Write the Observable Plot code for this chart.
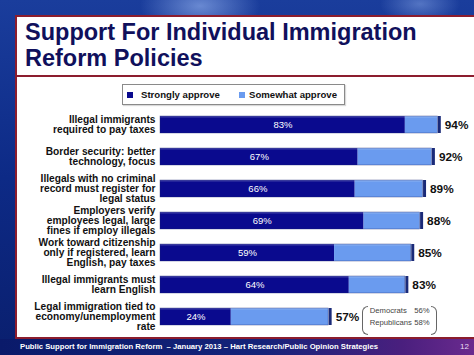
<!DOCTYPE html>
<html>
<head>
<meta charset="utf-8">
<script src="https://cdn.jsdelivr.net/npm/d3@7"></script>
<script src="https://cdn.jsdelivr.net/npm/@observablehq/plot@0.6"></script>
<style>
  html, body { margin: 0; padding: 0; }
  body {
    width: 474px; height: 355px; overflow: hidden; position: relative;
    font-family: "Liberation Sans", Arial, sans-serif;
    background:
      radial-gradient(ellipse 60px 30px at 200px 6px, rgba(170,200,255,0.55), rgba(170,200,255,0) 100%),
      radial-gradient(ellipse 40px 20px at 420px 4px, rgba(170,200,255,0.4), rgba(170,200,255,0) 100%),
      linear-gradient(180deg, #1a3d9c 0%, #0d2a86 50%, #0a1f6e 100%);
  }
  #footer {
    position: absolute; left: 0; top: 339px; width: 474px; height: 16px;
    background: linear-gradient(90deg, #0a1a6a 0%, #14237a 55%, #4a1f7e 85%, #6a2a8e 100%);
  }
  #footer .src { position: absolute; left: 20px; top: 3px; color: #fff; font-weight: bold; font-size: 7.7px; white-space: pre; }
  #footer .pg { position: absolute; left: 460px; top: 3px; color: #e8dcf5; font-size: 8px; }
  #panel {
    position: absolute; left: 15px; top: 15px; width: 470px; height: 320px;
    background: #fff; border: 2px solid #8c1d2e;
  }
  #titlebar {
    position: absolute; left: 15px; top: 15px; width: 470px; height: 60px;
    border-bottom: 2px solid #8c1d2e;
  }
  #title {
    position: absolute; left: 25px; top: 20px; margin: 0;
    font-size: 23.5px; line-height: 25.5px; font-weight: bold; color: #10105c;
  }
  #legend {
    position: absolute; left: 122px; top: 84px; width: 221px; height: 19px;
    border: 1px solid #8a8a8a; background: #fff; box-shadow: 1px 1px 1px rgba(0,0,0,0.15);
    font-size: 9.6px; font-weight: bold; color: #111;
  }
  #legend .sw { position: absolute; top: 7px; width: 6px; height: 6px; }
  #legend .lb { position: absolute; top: 4px; }
  #chart { position: absolute; left: 0; top: 78px; }
  .br { position: absolute; top: 306px; width: 5px; height: 27px; border: 1px solid #666; }
  .br.l { left: 362px; border-right: none; border-radius: 6px 0 0 6px; }
  .br.r { left: 431px; border-left: none; border-radius: 0 6px 6px 0; }
</style>
</head>
<body>
<div id="panel"></div>
<div id="titlebar"></div>
<h1 id="title">Support For Individual Immigration<br>Reform Policies</h1>
<div id="legend"></div>
<div id="chart"></div>
<div class="br l"></div>
<div class="br r"></div>
<div id="footer"><span class="src"></span><span class="pg"></span></div>
<script>
// ---- data ----
const categories = [
  "Illegal immigrants\nrequired to pay taxes",
  "Border security: better\ntechnology, focus",
  "Illegals with no criminal\nrecord must register for\nlegal status",
  "Employers verify\nemployees legal, large\nfines if employ illegals",
  "Work toward citizenship\nonly if registered, learn\nEnglish, pay taxes",
  "Illegal immigrants must\nlearn English",
  "Legal immigration tied to\neconomy/unemployment\nrate"
];
const strongly = [83, 67, 66, 69, 59, 64, 24];
const total    = [94, 92, 89, 88, 85, 83, 57];
const seriesNames = ["Strongly approve", "Somewhat approve"];
const noteNames = ["Democrats", "Republicans"];
const noteValues = [56, 58];
const footerText = "Public Support for Immigration Reform  \u2013 January 2013 \u2013 Hart Research/Public Opinion Strategies";
const pageNumber = "12";

const colors = ["#0a0a8e", "#6a9bef"];

const rows = categories.map((c, i) => ({cat: c, strong: strongly[i], total: total[i]}));
const last = rows[rows.length - 1];
const notes = noteNames.map((n, i) => ({cat: last.cat, total: last.total, name: n, value: noteValues[i]}));

// legend
const legend = document.getElementById("legend");
const legendPos = [[4, 18], [116, 126]];
seriesNames.forEach((s, i) => {
  const sw = document.createElement("div");
  sw.className = "sw"; sw.style.left = legendPos[i][0] + "px"; sw.style.background = colors[i];
  const lb = document.createElement("div");
  lb.className = "lb"; lb.style.left = legendPos[i][1] + "px"; lb.textContent = s;
  legend.append(sw, lb);
});
document.querySelector("#footer .src").textContent = footerText;
document.querySelector("#footer .pg").textContent = pageNumber;

const noteMarks = notes.flatMap((d, i) => {
  const dy = i === 0 ? -6 : 6;
  return [
    Plot.text([d], {y: "cat", x: "total", text: "name", textAnchor: "start", dx: 41, dy, fontSize: 7.7, fill: "#444"}),
    Plot.text([d], {y: "cat", x: "total", text: v => v.value + "%", textAnchor: "end", dx: 101, dy, fontSize: 7.7, fill: "#444"})
  ];
});

const font = "Liberation Sans, Arial, sans-serif";
const chart = Plot.plot({
  width: 474,
  height: 261,
  margin: 0,
  style: {background: "transparent", fontFamily: font},
  x: {domain: [0, 100], range: [160, 455], axis: null},
  y: {domain: categories, range: [19.75, 265], padding: 0.48, axis: null},
  marks: [
    Plot.barX(rows, {y: "cat", x1: 0, x2: "strong", fill: colors[0]}),
    Plot.barX(rows, {y: "cat", x1: "strong", x2: "total", fill: colors[1]}),
    // top bevel
    Plot.barX(rows, {y: "cat", x1: 0, x2: "total", fill: "#ffffff", fillOpacity: 0.22, insetBottom: 15.5}),
    Plot.barX(rows, {y: "cat", x1: 0, x2: "total", fill: "none", stroke: "#1b2470", strokeWidth: 0.6, strokeOpacity: 0.6}),
    // right cap
    Plot.tickX(rows, {y: "cat", x: "total", stroke: "#1a2a78", strokeWidth: 3, dx: 1.5}),
    // inner value labels
    Plot.text(rows, {y: "cat", x: d => d.strong / 2, text: d => d.strong + "%", fill: "#fff", fontSize: 9.5}),
    // total labels
    Plot.text(rows, {y: "cat", x: "total", text: d => d.total + "%", textAnchor: "start", dx: 7, fontSize: 11.8, fontWeight: "bold", fill: "#111"}),
    // category labels
    Plot.text(rows, {y: "cat", x: 0, text: "cat", textAnchor: "end", dx: -5, fontSize: 10.2, fontWeight: "bold", lineHeight: 0.95, fill: "#111"}),
    ...noteMarks
  ]
});
document.getElementById("chart").append(chart);
</script>
</body>
</html>
